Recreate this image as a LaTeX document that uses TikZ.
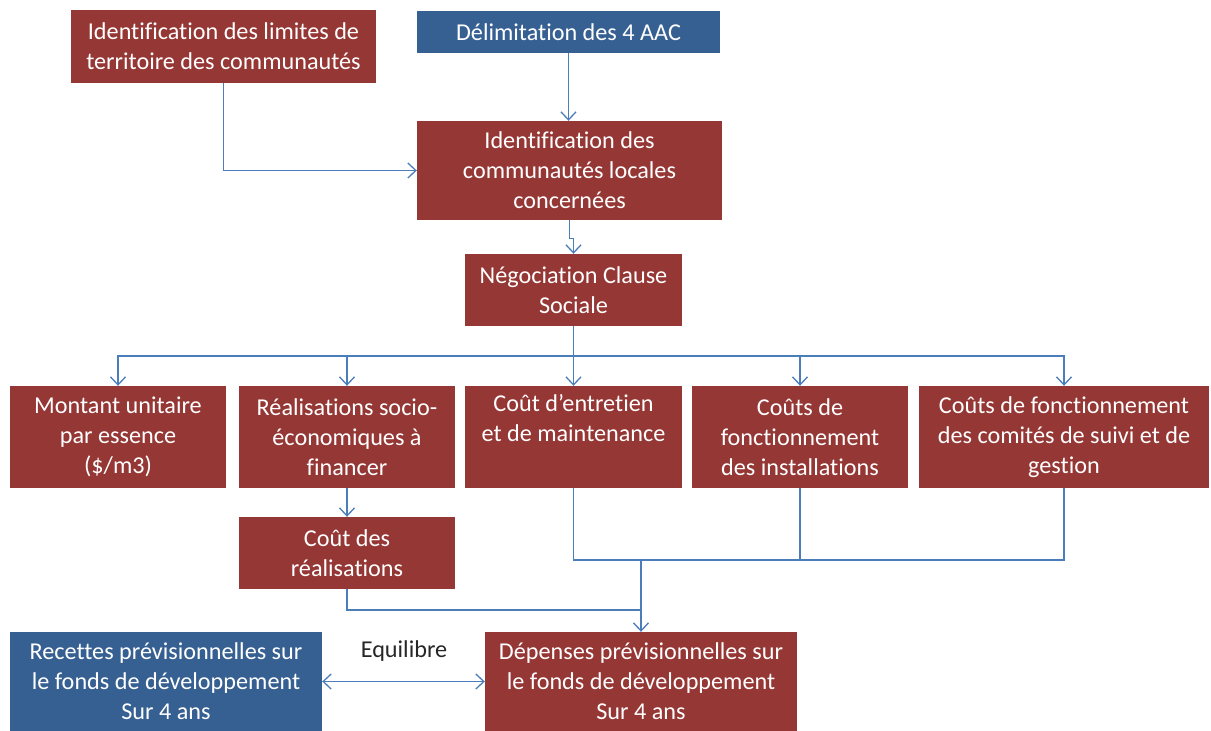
\documentclass[tikz,border=0pt]{standalone}
\usepackage{fontspec}
\setmainfont{Carlito}[Ligatures=NoCommon]
\usetikzlibrary{arrows.meta,calc}
\definecolor{boxred}{HTML}{953735}
\definecolor{boxblue}{HTML}{376092}
\definecolor{linkblue}{HTML}{4A7EBB}
\begin{document}
\begin{tikzpicture}[x=1pt,y=-1pt,
  box/.style={fill=boxred,draw=none,text=white,align=center,inner sep=0pt,
    font=\fontsize{24.2}{30}\selectfont},
  bbox/.style={box,fill=boxblue},
  link/.style={draw=linkblue,line width=1.3pt},
  arr/.style={link,-{Straight Barb[length=8pt,width=15pt,line width=1.3pt]}},
  darr/.style={link,{Straight Barb[length=8pt,width=15pt,line width=1.3pt]}-{Straight Barb[length=8pt,width=15pt,line width=1.3pt]}},
  lbl/.style={text=black!85,font=\fontsize{24.2}{30}\selectfont}]
\useasboundingbox (0,0) rectangle (1211,731);
% top row
\node[box,minimum width=305pt,minimum height=73pt] (b1) at (223.5,46.5)
  {Identification des limites de\\territoire des communautés};
\node[bbox,minimum width=303pt,minimum height=42pt] (b2) at (568.5,32)
  {Délimitation des 4 AAC};
\node[box,minimum width=305pt,minimum height=99pt] (b3) at (569.5,170.5)
  {Identification des\\communautés locales\\concernées};
\node[box,minimum width=217pt,minimum height=72pt] (b4) at (573.5,290)
  {Négociation Clause\\Sociale};
% middle row
\node[box,minimum width=216pt,minimum height=102pt] (r1) at (118,437)
  {Montant unitaire\\par essence\\(\$/m3)};
\node[box,minimum width=216pt,minimum height=102pt] (r2) at (347,437)
  {Réalisations socio-\\économiques à\\financer};
\node[box,minimum width=217pt,minimum height=102pt] (r3) at (573.5,437)
  {Coût d’entretien\\et de maintenance\\\strut};
\node[box,minimum width=216pt,minimum height=102pt] (r4) at (800,437)
  {Coûts de\\fonctionnement\\des installations};
\node[box,minimum width=290pt,minimum height=102pt] (r5) at (1064,437)
  {Coûts de fonctionnement\\des comités de suivi et de\\gestion};
\node[box,minimum width=216pt,minimum height=72pt] (c1) at (347,553)
  {Coût des\\réalisations};
% bottom row
\node[bbox,minimum width=312pt,minimum height=99pt] (rec) at (166,681.5)
  {Recettes prévisionnelles sur\\le fonds de développement\\Sur 4 ans};
\node[box,minimum width=312pt,minimum height=99pt] (dep) at (641,681.5)
  {Dépenses prévisionnelles sur\\le fonds de développement\\Sur 4 ans};
\node[lbl] (eq) at (404,651) {Equilibre};
% connectors
\coordinate (bus) at (573.5,356);
\coordinate (j1) at (641,560);
\coordinate (j2) at (641,610);
\draw[arr] (b1.south) |- (b3.west);
\draw[arr] (b2.south) -- (b2.south |- b3.north);
\draw[arr] (b3.south) -- ($(b3.south)+(0,18)$) -| (b4.north);
\draw[link] (b4.south) -- (bus);
\foreach \r in {r1,r2,r3,r4,r5} \draw[arr] (bus) -| (\r.north);
\draw[arr] (r2.south) -- (c1.north);
\draw[link] (r3.south) |- (r5.south |- j1) -- (r5.south);
\draw[link] (r4.south) -- (r4.south |- j1);
\draw[link] (c1.south) |- (j2);
\draw[arr] (j1) -- (dep.north);
\draw[darr] (rec.east) -- (dep.west);
\end{tikzpicture}
\end{document}
